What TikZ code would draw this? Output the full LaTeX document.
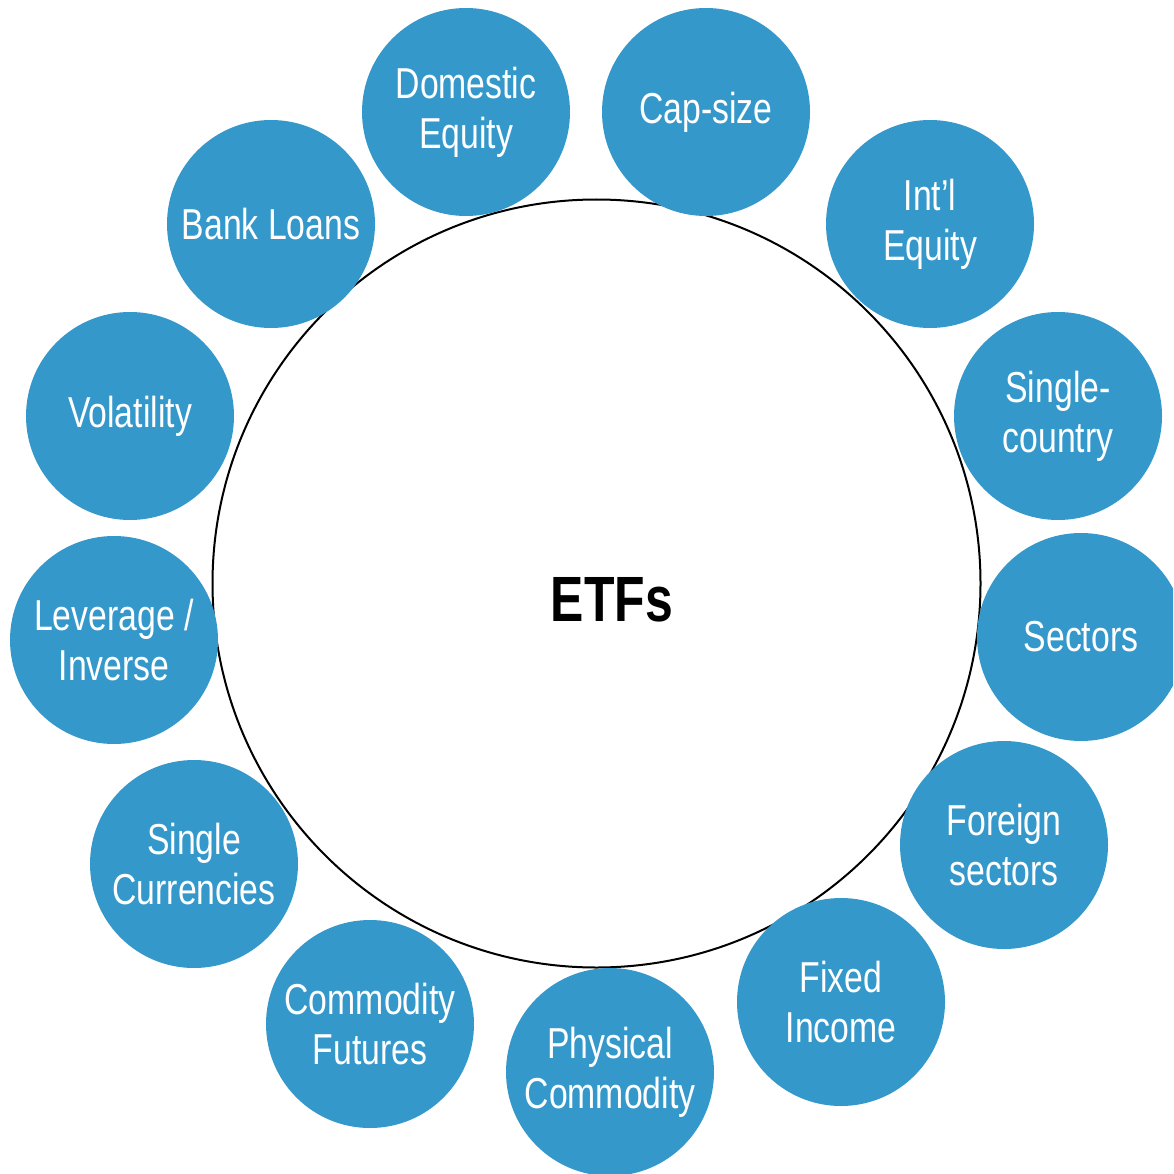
\documentclass[tikz,border=0pt]{standalone}
\usepackage{fontspec}
\setmainfont[FakeStretch=0.78]{Liberation Sans}
\usepackage{xcolor}
\usepackage{tikz}
\definecolor{etfblue}{RGB}{53,152,203}
\newcommand{\bulletfont}{\fontsize{43.3}{50}\selectfont}

\begin{document}
\begin{tikzpicture}[x=1pt, y=-1pt,
	categorie/.style={circle, fill=etfblue, minimum size=208pt, inner sep=0pt, text=white, align=center, font=\bulletfont}]
		\useasboundingbox (0,0) rectangle (1173,1174);
		\clip (0,0) rectangle (1173,1174);
		
		% --- Grand cercle central ---
		\node[circle, draw, line width=2pt, minimum size=768pt, inner sep=0pt] (etfs) at (596.5,583.5) {};
		\node[font=\fontsize{64}{70}\selectfont\bfseries] (etfs_label) at (612,600) {ETFs};
		
		% --- Bulles autour (sens horaire depuis le haut) ---
		\node[categorie] (dom_eq) at (466,112) {Domestic\\Equity};
		\node[categorie] (cap_size) at (706,112) {Cap-size};
		\node[categorie] (intl_eq) at (930,224) {Int’l\\Equity};
		\node[categorie] (single_cty) at (1058,416) {Single-\\country};
		\node[categorie] (sectors) at (1081,637) {Sectors};
		\node[categorie] (foreign_sec) at (1004,845) {Foreign\\sectors};
		\node[categorie] (fixed_inc) at (841,1002) {Fixed\\Income};
		\node[categorie] (phys_com) at (610,1072) {Physical\\Commodity};
		\node[categorie] (com_fut) at (370,1024) {Commodity\\Futures};
		\node[categorie] (single_cur) at (194,864) {Single\\Currencies};
		\node[categorie] (lev_inv) at (114,640) {Leverage /\\Inverse};
		\node[categorie] (volatility) at (130,416) {Volatility};
		\node[categorie] (bank_loans) at (271,224) {Bank Loans};
		
	\end{tikzpicture}
\end{document}
